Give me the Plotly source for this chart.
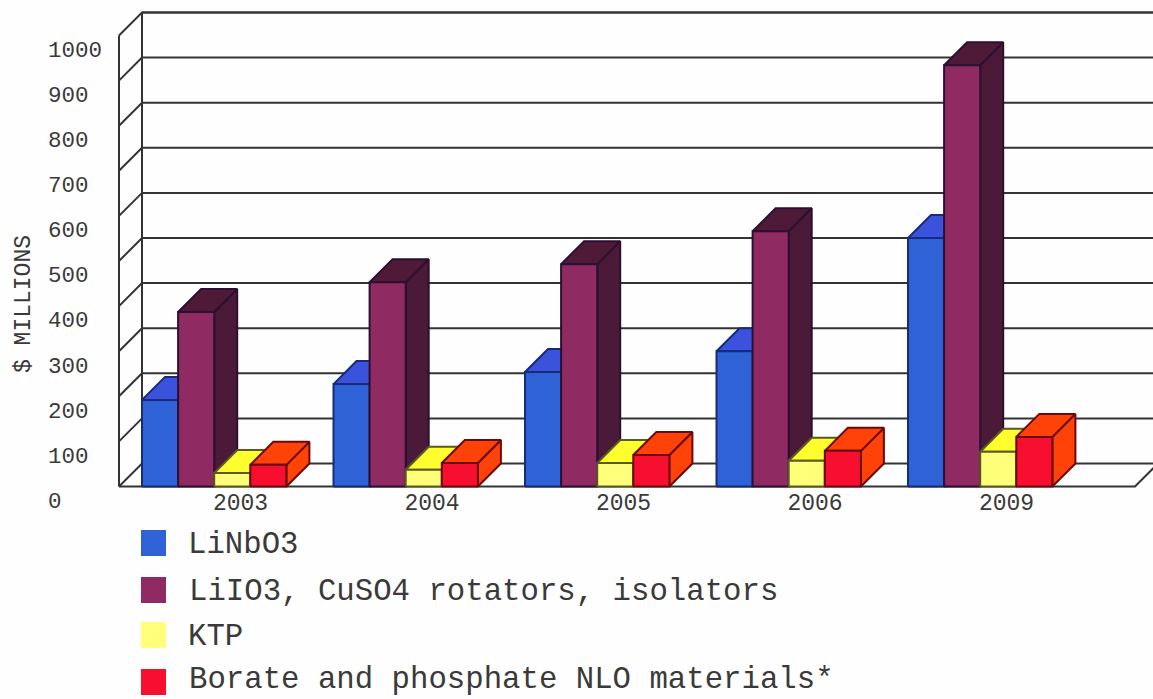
import plotly.graph_objects as go

# Market values, $ millions
years = ["2003", "2004", "2005", "2006", "2009"]
linbo3 = [192, 227, 254, 300, 551]
liio3_cuso4 = [387, 453, 493, 566, 934]
ktp = [30, 37, 52, 57, 77]
borate_phosphate = [48, 52, 70, 79, 110]
series_names = [
    "LiNbO3",
    "LiIO3, CuSO4 rotators, isolators",
    "KTP",
    "Borate and phosphate NLO materials*",
]
y_ticks = [0, 100, 200, 300, 400, 500, 600, 700, 800, 900, 1000]

W, H = 1153, 699
PX_PER_GROUP = 191.5      # horizontal pixels per category
PX_PER_UNIT = 0.451       # vertical pixels per $ million
ORIGIN_X, ORIGIN_Y = 142, 486.5
BAR_W = 36.1 / PX_PER_GROUP
DEPTH_X = 23.0 / PX_PER_GROUP
DEPTH_Y = 23.0 / PX_PER_UNIT
FLOOR_END = (1135 - ORIGIN_X) / PX_PER_GROUP
FONT = "Liberation Mono"
TEXT = "#3a3a3a"
GRID = "#333333"

styles = [
    dict(front="#2f62d6", top="#3a52dc", side="#22409a", edge="#182a78"),
    dict(front="#8f2b62", top="#4f1a38", side="#4a1a38", edge="#2c1030"),
    dict(front="#ffff7a", top="#ffff30", side="#d8d820", edge="#5a5a20"),
    dict(front="#f80f30", top="#ff4208", side="#ff4208", edge="#6a0a10"),
]
values = [linbo3, liio3_cuso4, ktp, borate_phosphate]

fig = go.Figure()


def poly_trace(xs, ys, fill, edge, width=2):
    fig.add_trace(go.Scatter(
        x=xs, y=ys, mode="lines", fill="toself", fillcolor=fill,
        line=dict(color=edge, width=width), hoverinfo="skip", showlegend=False,
    ))


# Walls and floor of the box
wall_x, wall_y = [], []
for v in y_ticks:
    wall_x += [-DEPTH_X, 0, (W - ORIGIN_X) / PX_PER_GROUP, None]
    wall_y += [v, v + DEPTH_Y, v + DEPTH_Y, None]
wall_x += [-DEPTH_X, -DEPTH_X, None, 0, 0, None, -DEPTH_X, FLOOR_END, FLOOR_END + DEPTH_X, None,
           0, (W - ORIGIN_X) / PX_PER_GROUP]
wall_y += [0, 1000, None, DEPTH_Y, 1000 + DEPTH_Y, None, 0, 0, DEPTH_Y, None,
           1000 + DEPTH_Y, 1000 + DEPTH_Y]
fig.add_trace(go.Scatter(x=wall_x, y=wall_y, mode="lines", line=dict(color=GRID, width=2),
                         hoverinfo="skip", showlegend=False))

# Extruded bars, series by series so nearer neighbours cover earlier ones
for j, (vals, st) in enumerate(zip(values, styles)):
    fx, fy, tx, ty, sx, sy = [], [], [], [], [], []
    for i, v in enumerate(vals):
        x0 = i + j * BAR_W
        x1 = x0 + BAR_W
        fx += [x0, x1, x1, x0, x0, None]
        fy += [0, 0, v, v, 0, None]
        tx += [x0, x1, x1 + DEPTH_X, x0 + DEPTH_X, x0, None]
        ty += [v, v, v + DEPTH_Y, v + DEPTH_Y, v, None]
        sx += [x1, x1 + DEPTH_X, x1 + DEPTH_X, x1, x1, None]
        sy += [0, DEPTH_Y, v + DEPTH_Y, v, 0, None]
    poly_trace(sx, sy, st["side"], st["edge"])
    poly_trace(tx, ty, st["top"], st["edge"])
    poly_trace(fx, fy, st["front"], st["edge"])

fig.update_layout(
    width=W, height=H,
    margin=dict(l=0, r=0, t=0, b=0),
    paper_bgcolor="#fefefe", plot_bgcolor="rgba(0,0,0,0)",
    showlegend=False,
    font=dict(family=FONT, color=TEXT),
    xaxis=dict(
        domain=[0, 1],
        range=[-ORIGIN_X / PX_PER_GROUP, (W - ORIGIN_X) / PX_PER_GROUP],
        tickmode="array",
        tickvals=[i + 98.5 / PX_PER_GROUP for i in range(len(years))],
        ticktext=years,
        tickfont=dict(size=23, family=FONT, color=TEXT),
        showgrid=False, zeroline=False, showline=False, ticks="",
        anchor="free", position=1 - 486 / H, side="bottom",
    ),
    yaxis=dict(
        domain=[0, 1],
        range=[-(H - ORIGIN_Y) / PX_PER_UNIT, ORIGIN_Y / PX_PER_UNIT],
        tickmode="array",
        # Labels sit a little below the level they name
        tickvals=[v - 13.5 / PX_PER_UNIT for v in y_ticks],
        ticktext=[str(v) for v in y_ticks],
        tickfont=dict(size=22.5, family=FONT, color=TEXT),
        showgrid=False, zeroline=False, showline=False, ticks="",
        anchor="free", position=47 / W, side="right",
    ),
)

fig.add_annotation(
    text="$ MILLIONS", xref="paper", yref="paper",
    x=24 / W, y=1 - 304 / H, xanchor="center", yanchor="middle",
    textangle=-90, showarrow=False, font=dict(size=23, family=FONT, color=TEXT),
)

# Legend rows below the chart
swatch_rows = [543, 590, 635, 682]
label_rows = [544.5, 591.5, 636.5, 679.5]
for name, st, row, label_row in zip(series_names, styles, swatch_rows, label_rows):
    fig.add_shape(
        type="rect", xref="paper", yref="paper", layer="above",
        x0=141 / W, x1=166 / W, y0=1 - (row - 13) / H, y1=1 - (row + 13) / H,
        fillcolor=st["front"], line=dict(width=0),
    )
    fig.add_annotation(
        text=name, xref="paper", yref="paper",
        x=186.5 / W, y=1 - label_row / H, xanchor="left", yanchor="middle",
        showarrow=False, font=dict(size=30.7, family=FONT, color=TEXT),
    )

fig.write_html("out.html")
